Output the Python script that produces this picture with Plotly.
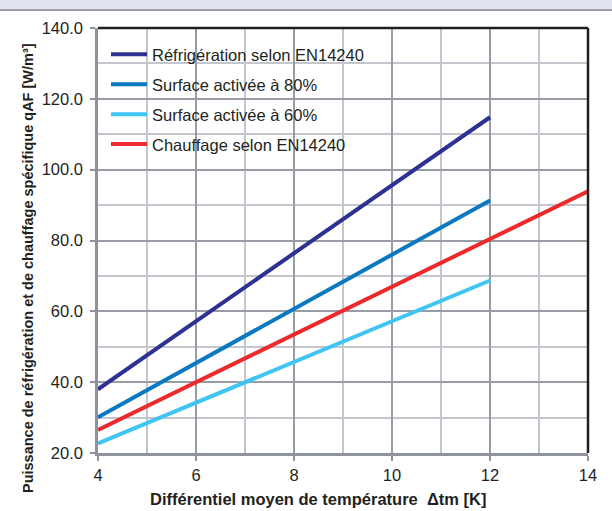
import plotly.graph_objects as go

# ---- data ----
x_refrig = [4, 6, 8, 10, 12]
y_refrig = [38.0, 57.2, 76.4, 95.6, 114.8]

x_s80 = [4, 6, 8, 10, 12]
y_s80 = [30.1, 45.4, 60.7, 76.0, 91.3]

x_s60 = [4, 6, 8, 10, 12]
y_s60 = [22.7, 34.2, 45.7, 57.2, 68.7]

x_chauf = [4, 6, 8, 10, 12, 14]
y_chauf = [26.5, 40.0, 53.5, 67.0, 80.3, 93.9]

names = ["Réfrigération selon EN14240", "Surface activée à 80%",
         "Surface activée à 60%", "Chauffage selon EN14240"]
colors = ["#2e3192", "#0b79c1", "#40c4f1", "#ec2a2e"]

x_ticks = [4, 6, 8, 10, 12, 14]
y_ticks = [20, 40, 60, 80, 100, 120, 140]
y_ticklabels = ["20.0", "40.0", "60.0", "80.0", "100.0", "120.0", "140.0"]

FONT = "Arial, Liberation Sans, sans-serif"
AX = "#8e939b"
MAJ = "#989da5"
MIN = "#c3c7cd"

W, H = 612, 511
L, R, T, B = 98, 24, 28, 58
PW, PH = W - L - R, H - T - B


def px(xp):
    return (xp - L) / PW


def py(yp):
    return (H - B - yp) / PH


fig = go.Figure()
series = [(x_refrig, y_refrig), (x_s80, y_s80), (x_s60, y_s60), (x_chauf, y_chauf)]
for i, ((xs, ys), n, c) in enumerate(zip(series, names, colors)):
    fig.add_trace(go.Scatter(x=xs, y=ys, mode="lines", name=n, legendgroup=f"g{i}",
                             line=dict(color=c, width=4)))

fig.update_layout(
    width=W, height=H,
    margin=dict(l=L, r=R, t=T, b=B),
    paper_bgcolor="white", plot_bgcolor="white",
    font=dict(family=FONT, color="#231f20"),
    showlegend=True,
    legend=dict(x=px(106), y=py(37), xanchor="left", yanchor="top",
                bgcolor="rgba(0,0,0,0)", borderwidth=0, tracegroupgap=5.5, itemwidth=36,
                font=dict(size=16.5, family=FONT, color="#231f20")),
    xaxis=dict(range=[4, 14], tickvals=x_ticks, showline=True, linecolor=AX, linewidth=2.5,
               ticks="outside", ticklen=5, tickwidth=2, tickcolor=AX,
               showgrid=True, gridcolor=MAJ, gridwidth=2, zeroline=False,
               tickfont=dict(size=16.5, family=FONT, color="#231f20"),
               minor=dict(dtick=1, showgrid=True, gridcolor=MIN, gridwidth=2, ticks="")),
    yaxis=dict(range=[20, 140], tickvals=y_ticks, ticktext=y_ticklabels, showline=True,
               linecolor=AX, linewidth=2.5, ticklabelstandoff=4,
               ticks="outside", ticklen=5, tickwidth=2, tickcolor=AX,
               showgrid=True, gridcolor=MAJ, gridwidth=2, zeroline=False,
               tickfont=dict(size=16.5, family=FONT, color="#231f20"),
               minor=dict(dtick=10, showgrid=True, gridcolor=MIN, gridwidth=2, ticks="")),
)

# white legend panel hiding the grid (between grid and traces)
fig.add_shape(type="rect", xref="paper", yref="paper", x0=px(107), x1=px(415),
              y0=py(154), y1=py(35), fillcolor="white", line_width=0, layer="between")

# dark top / right frame
fig.add_shape(type="line", xref="paper", yref="paper", x0=0, x1=1, y0=1, y1=1,
              line=dict(color="#231f20", width=2.5), layer="above")
fig.add_shape(type="line", xref="paper", yref="paper", x0=1, x1=1, y0=0, y1=1,
              line=dict(color="#231f20", width=2.5), layer="above")

# top decorative band (lavender strip + grey rule) as boxed annotations
fig.add_annotation(text=" ", xref="paper", yref="paper", x=px(W / 2), y=py(0),
                   xanchor="center", yanchor="top", showarrow=False, width=W + 20, height=9,
                   bgcolor="#e0e2f0", borderpad=0, borderwidth=0, font=dict(size=6))
fig.add_annotation(text=" ", xref="paper", yref="paper", x=px(W / 2), y=py(8.5),
                   xanchor="center", yanchor="top", showarrow=False, width=W + 20, height=2,
                   bgcolor="#9a9ea6", borderpad=0, borderwidth=0, font=dict(size=1))

fig.add_annotation(text="<b>Différentiel moyen de température  Δtm [K]</b>",
                   xref="paper", yref="paper", x=px(318), y=py(499),
                   xanchor="center", yanchor="middle", showarrow=False,
                   font=dict(size=16.5, family=FONT, color="#231f20"))
fig.add_annotation(text="<b>Puissance de réfrigération et de chauffage spécifique qAF [W/m³]</b>",
                   xref="paper", yref="paper", x=px(28), y=py(268),
                   xanchor="center", yanchor="middle", textangle=-90, showarrow=False,
                   font=dict(size=14.5, family=FONT, color="#231f20"))

fig.write_html("out.html", config={"displayModeBar": False},
               post_script="document.body.style.margin='0';")
